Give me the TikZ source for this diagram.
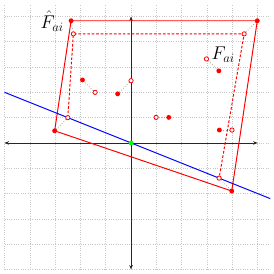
\documentclass[tikz,border=0pt]{standalone}
\usetikzlibrary{arrows.meta}
\begin{document}
\begin{tikzpicture}[x=1cm,y=1cm,
  gridline/.style={gray!45,dotted,line width=0.6pt},
  axis/.style={black!85,line width=0.9pt,-{Stealth[length=5pt,width=4pt]}},
  solidpt/.style={circle,fill=red,inner sep=0pt,minimum size=5.5pt},
  hollowpt/.style={circle,draw=red,fill=white,line width=0.9pt,inner sep=0pt,minimum size=4.8pt},
  link/.style={gray!70,dotted,line width=0.9pt},
  estpoly/.style={red,line width=1.1pt},
  truepoly/.style={red,dashed,dash pattern=on 3pt off 2pt,line width=1.1pt},
  lbl/.style={font=\huge,inner sep=1pt}]
\useasboundingbox (-5.18,-5.18) rectangle (5.65,5.65);
\draw[gridline] (-5,-5) grid (5.5,5.5);
\draw[axis] (0,0) -- (5,0);
\draw[axis] (0,0) -- (-5,0);
\draw[axis] (0,0) -- (0,5);
\draw[axis] (0,0) -- (0,-5);
% true points (hollow)
\coordinate (h1) at (-2.28,4.31);
\coordinate (h2) at (4.47,4.31);
\coordinate (h3) at (3.48,-1.39);
\coordinate (h4) at (-2.5,1.0);
\coordinate (h5) at (-1.42,2.0);
\coordinate (h6) at (0,2.46);
\coordinate (h7) at (2.98,3.32);
\coordinate (h8) at (0.99,1.01);
\coordinate (h9) at (3.99,0.51);
% estimated points (solid)
\coordinate (s1) at (-2.37,4.83);
\coordinate (s2) at (4.99,4.83);
\coordinate (s3) at (3.98,-1.9);
\coordinate (s4) at (-3.02,0.48);
\coordinate (s5) at (-1.92,2.49);
\coordinate (s6) at (-0.53,1.94);
\coordinate (s7) at (3.47,2.85);
\coordinate (s8) at (1.49,1.01);
\coordinate (s9) at (3.49,0.51);
\draw[truepoly] (h4) -- (h1) -- (h2) -- (h3);
\draw[estpoly] (s1) -- (s2) -- (s3) -- (s4) -- cycle;
\coordinate (bl) at (-5,2);
\coordinate (br) at (5.5,-2.2);
\draw[blue,line width=1.1pt] (bl) -- (br);
\foreach \i in {1,...,9} {\draw[link] (h\i) -- (s\i);}
\foreach \i in {1,...,9} {\node[hollowpt] (H\i) at (h\i) {}; \node[solidpt] (S\i) at (s\i) {};}
\node[circle,fill=green,inner sep=0pt,minimum size=5.5pt] (o) at (0,0) {};
\node[lbl] (lhat) at (-3.12,4.82) {$\hat{F}_{ai}$};
\node[lbl] (lf) at (3.64,3.5) {$F_{ai}$};
\end{tikzpicture}
\end{document}
